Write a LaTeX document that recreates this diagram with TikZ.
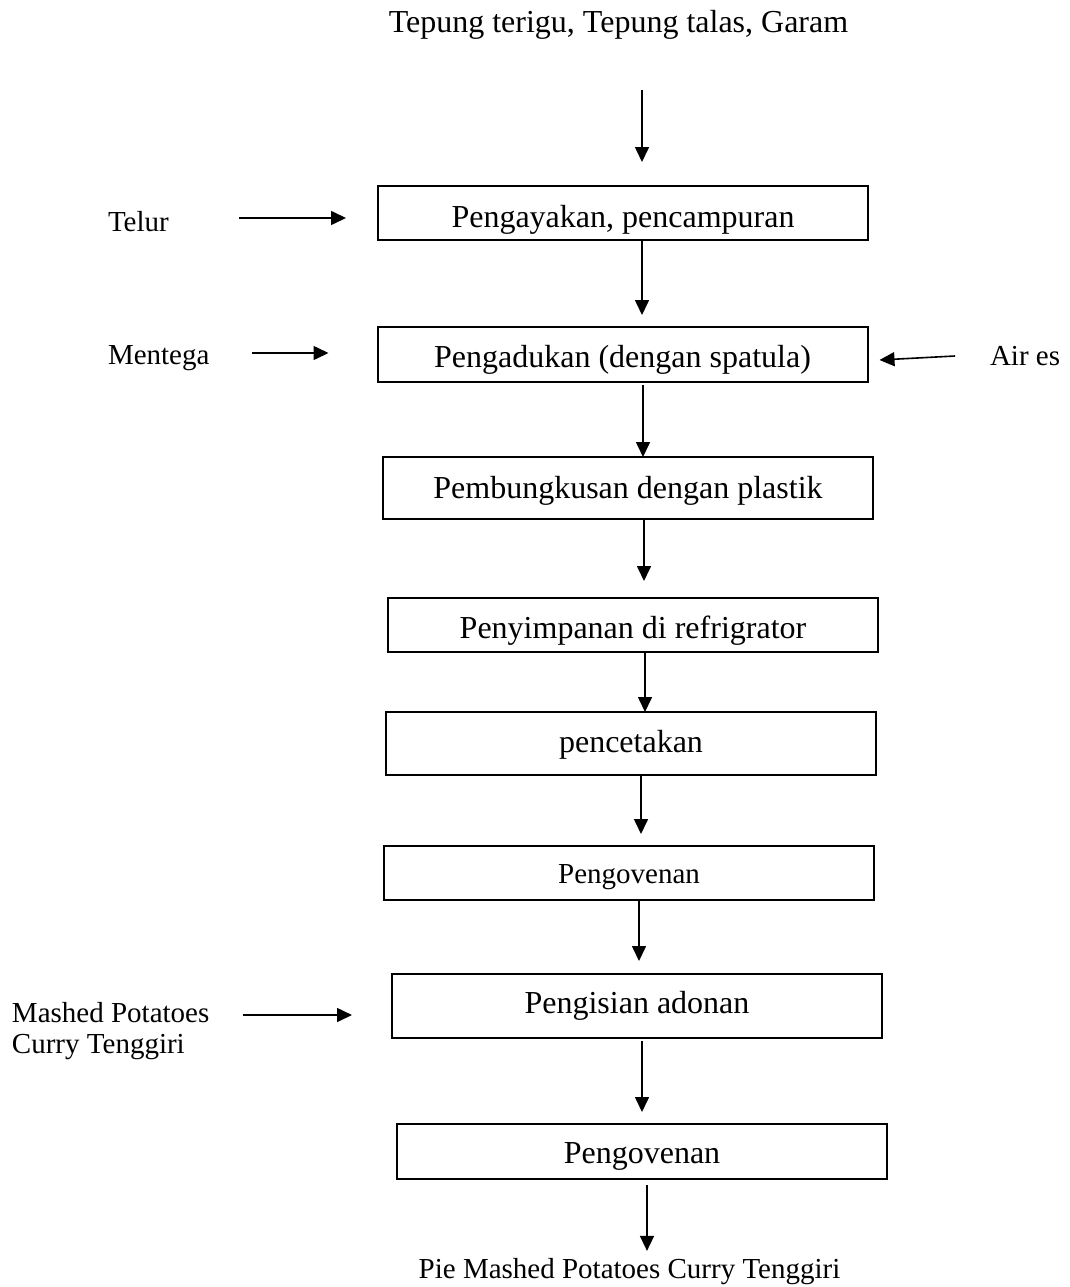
\documentclass[tikz,border=0pt]{standalone}
\usepackage{fontspec}
\setmainfont{Liberation Serif}
\usetikzlibrary{arrows.meta,calc}
\tikzset{
  procbox/.style={draw, line width=2pt, inner xsep=0pt, inner ysep=0pt, outer sep=0pt,
    minimum width=490pt, anchor=base, font=\fontsize{32}{38}\selectfont},
  lbl/.style={inner sep=0pt, outer sep=0pt, font=\fontsize{29}{31}\selectfont},
  biglbl/.style={inner sep=0pt, outer sep=0pt, font=\fontsize{32}{38}\selectfont},
  arr/.style={line width=1.6pt, -{Triangle[length=15pt,width=14pt]}},
}
\begin{document}
\begin{tikzpicture}[x=1pt,y=-1pt]
\useasboundingbox (0,0) rectangle (1069,1287);
% title and output
\node[biglbl, anchor=base] (title) at (618.5,33) {Tepung terigu, Tepung talas, Garam};
\node[lbl, anchor=base] (pie) at (629.5,1278) {Pie Mashed Potatoes Curry Tenggiri};
% process boxes
\node[procbox, text height=41pt, text depth=13pt] (b1) at (623,227) {Pengayakan, pencampuran};
\node[procbox, text height=40pt, text depth=15pt] (b2) at (622.5,367) {Pengadukan (dengan spatula)};
\node[procbox, text height=41pt, text depth=21pt] (b3) at (628,498) {Pembungkusan dengan plastik};
\node[procbox, text height=40pt, text depth=14pt] (b4) at (633,638) {Penyimpanan di refrigrator};
\node[procbox, text height=40pt, text depth=23pt] (b5) at (631,752) {pencetakan};
\node[procbox, text height=37pt, text depth=17pt, font=\fontsize{29}{35}\selectfont] (b6) at (629,883) {Pengovenan};
\node[procbox, text height=39pt, text depth=25pt] (b7) at (637,1013) {Pengisian adonan};
\node[procbox, text height=39pt, text depth=16pt] (b8) at (642,1163) {Pengovenan};
% side inputs
\node[lbl, anchor=base west] (telur) at (108,231) {Telur};
\node[lbl, anchor=base west] (mentega) at (108,364) {Mentega};
\node[lbl, anchor=base west] (aires) at (990,365) {Air es};
\node[lbl, anchor=north west, align=left] (mashed) at (12,1002) {Mashed Potatoes\\Curry Tenggiri};
% main flow
\draw[arr] ($(title.south)+(23.5,50)$) -- ($(b1.north)+(19,-24)$);
\draw[arr] ($(b1.south)+(19,0)$) -- ($(b2.north)+(19.5,-12)$);
\draw[arr] ($(b2.south)+(20.5,3)$) -- ($(b3.north)+(15,0)$);
\draw[arr] ($(b3.south)+(16,0)$) -- ($(b4.north)+(11,-17)$);
\draw[arr] ($(b4.south)+(12,0)$) -- ($(b5.north)+(14,0)$);
\draw[arr] ($(b5.south)+(10,0)$) -- ($(b6.north)+(12,-12)$);
\draw[arr] ($(b6.south)+(10,0)$) -- ($(b7.north)+(2,-13)$);
\draw[arr] ($(b7.south)+(5,3)$) -- ($(b8.north)+(0,-12)$);
\draw[arr] ($(b8.south)+(5,6)$) -- ($(pie.north)+(17.5,-7)$);
% input arrows
\coordinate (tin) at (239,218);
\draw[arr] (tin) -- ($(b1.west)+(-32,5)$);
\coordinate (min) at (252,353);
\draw[arr] (min) -- ($(b2.west)+(-49,-1.5)$);
\coordinate (ain) at (955,356);
\draw[arr] (ain) -- ($(b2.east)+(12,5.5)$);
\coordinate (mpin) at (243,1015);
\draw[arr] (mpin) -- ($(b7.west)+(-40,9)$);
\end{tikzpicture}
\end{document}
